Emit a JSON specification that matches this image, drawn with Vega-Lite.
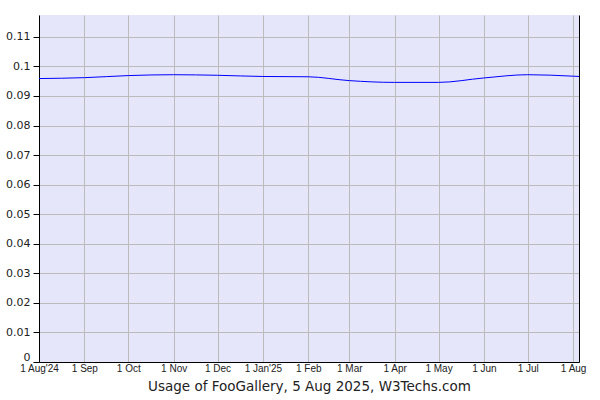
{
  "$schema": "https://vega.github.io/schema/vega-lite/v6.json",
  "width": 540,
  "height": 347,
  "autosize": {"type": "none"},
  "padding": {"left": 39, "top": 15, "right": 21, "bottom": 38},
  "background": "white",
  "config": {
    "view": {"fill": "#e6e6fa", "stroke": null},
    "axis": {"gridColor": "#bbbbbb", "gridWidth": 1, "gridOpacity": 1, "domainColor": "#000000", "domainWidth": 1}
  },
  "data": {
    "values": [
      {"date": "2024-08-01", "usage": 0.0959},
      {"date": "2024-09-01", "usage": 0.0962},
      {"date": "2024-10-01", "usage": 0.0969},
      {"date": "2024-11-01", "usage": 0.0972},
      {"date": "2024-12-01", "usage": 0.0970},
      {"date": "2025-01-01", "usage": 0.0966},
      {"date": "2025-02-01", "usage": 0.0965},
      {"date": "2025-03-01", "usage": 0.0952},
      {"date": "2025-04-01", "usage": 0.0946},
      {"date": "2025-05-01", "usage": 0.0946},
      {"date": "2025-06-01", "usage": 0.0961},
      {"date": "2025-07-01", "usage": 0.0972},
      {"date": "2025-08-01", "usage": 0.0967},
      {"date": "2025-08-05", "usage": 0.0966}
    ]
  },
  "encoding": {
    "x": {
      "field": "date",
      "type": "temporal",
      "scale": {
        "type": "utc",
        "domain": [
          {"year": 2024, "month": 8, "date": 1, "utc": true},
          {"year": 2025, "month": 8, "date": 5, "utc": true}
        ]
      },
      "axis": {
        "values": [
          {"year": 2024, "month": 8, "date": 1, "utc": true},
          {"year": 2024, "month": 9, "date": 1, "utc": true},
          {"year": 2024, "month": 10, "date": 1, "utc": true},
          {"year": 2024, "month": 11, "date": 1, "utc": true},
          {"year": 2024, "month": 12, "date": 1, "utc": true},
          {"year": 2025, "month": 1, "date": 1, "utc": true},
          {"year": 2025, "month": 2, "date": 1, "utc": true},
          {"year": 2025, "month": 3, "date": 1, "utc": true},
          {"year": 2025, "month": 4, "date": 1, "utc": true},
          {"year": 2025, "month": 5, "date": 1, "utc": true},
          {"year": 2025, "month": 6, "date": 1, "utc": true},
          {"year": 2025, "month": 7, "date": 1, "utc": true},
          {"year": 2025, "month": 8, "date": 1, "utc": true}
        ],
        "labelExpr": "utcFormat(datum.value, '%-d %b') + ((utcmonth(datum.value) == 0 || datum.index == 0) ? \"'\" + utcFormat(datum.value, '%y') : '')",
        "labelFont": "Liberation Sans",
        "labelFontSize": 10,
        "labelColor": "#222222",
        "labelFlush": false,
        "labelOverlap": false,
        "labelPadding": 1,
        "ticks": false,
        "grid": true,
        "title": "Usage of FooGallery, 5 Aug 2025, W3Techs.com",
        "titleFont": "DejaVu Sans",
        "titleFontSize": 13.5,
        "titleFontWeight": "normal",
        "titleColor": "#222222",
        "titlePadding": 6
      }
    }
  },
  "layer": [
    {
      "mark": {"type": "line", "color": "#0000ff", "strokeWidth": 1, "interpolate": "monotone", "clip": true},
      "encoding": {
        "y": {
          "field": "usage",
          "type": "quantitative",
          "scale": {"domain": [0, 0.1174], "nice": false, "zero": true},
          "axis": {
            "values": [0, 0.01, 0.02, 0.03, 0.04, 0.05, 0.06, 0.07, 0.08, 0.09, 0.1, 0.11],
            "format": "~g",
            "labelFont": "DejaVu Sans",
            "labelFontSize": 11,
            "labelColor": "#222222",
            "labelFlush": true,
            "labelPadding": 3,
            "tickSize": 6,
            "tickColor": "#000000",
            "grid": true,
            "title": null
          }
        }
      }
    },
    {
      "mark": {"type": "line", "opacity": 0},
      "encoding": {
        "y": {
          "field": "usage",
          "type": "quantitative",
          "axis": {"orient": "right", "labels": false, "ticks": false, "grid": false, "title": null, "domainColor": "#000000"}
        }
      }
    }
  ],
  "resolve": {"axis": {"y": "independent"}}
}
